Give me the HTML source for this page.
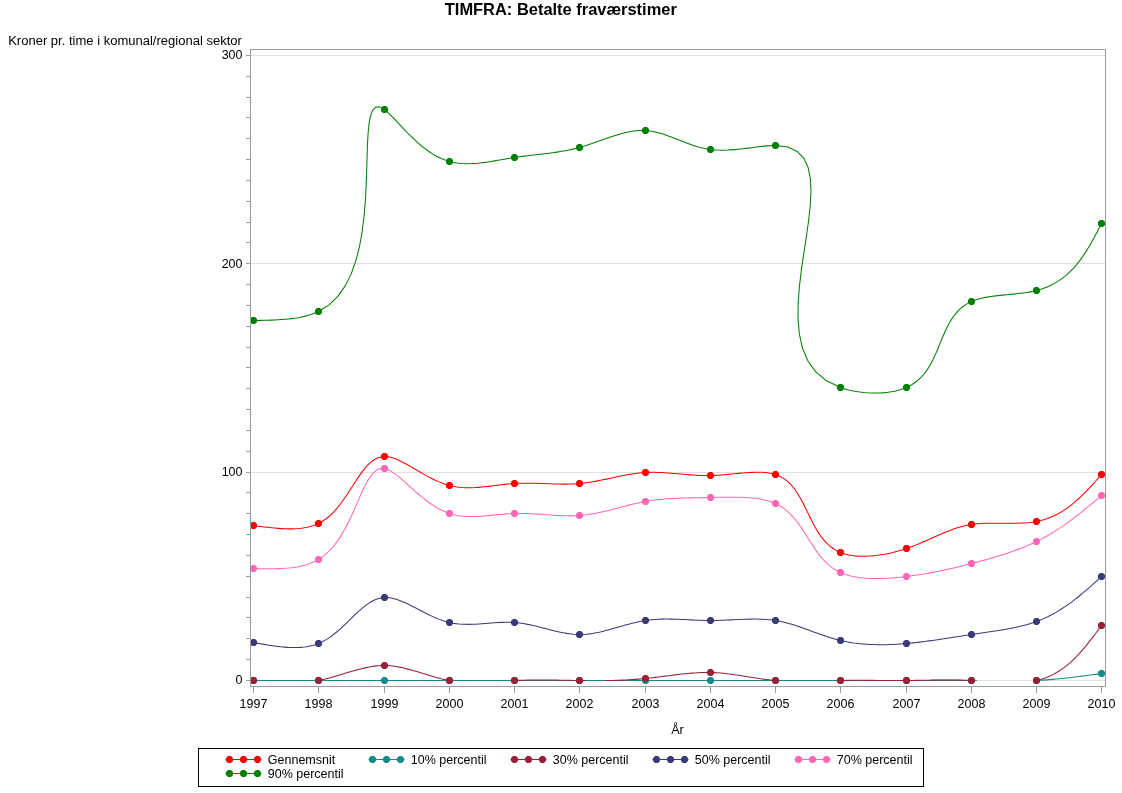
<!DOCTYPE html>
<html><head><meta charset="utf-8"><style>
html,body{margin:0;padding:0;background:#fff;}
svg{display:block;font-family:"Liberation Sans", sans-serif;will-change:transform;}
</style></head><body>
<svg width="1122" height="793" viewBox="0 0 1122 793" fill="#000">
<line x1="250.5" y1="680.50" x2="1105.5" y2="680.50" stroke="#e0e0e0" stroke-width="1"/>
<line x1="250.5" y1="472.50" x2="1105.5" y2="472.50" stroke="#e0e0e0" stroke-width="1"/>
<line x1="250.5" y1="263.50" x2="1105.5" y2="263.50" stroke="#e0e0e0" stroke-width="1"/>
<line x1="250.5" y1="55.50" x2="1105.5" y2="55.50" stroke="#e0e0e0" stroke-width="1"/>
<path d="M253.50,525.50 L257.08,525.98 L260.65,526.46 L264.21,526.91 L267.76,527.34 L271.28,527.73 L274.79,528.09 L278.26,528.38 L281.70,528.62 L285.10,528.79 L288.45,528.88 L291.76,528.88 L295.01,528.78 L298.21,528.58 L301.33,528.27 L304.40,527.83 L307.38,527.26 L310.29,526.55 L313.12,525.70 L315.86,524.68 L318.50,523.50 L322.96,520.99 L327.14,517.99 L331.06,514.57 L334.75,510.80 L338.24,506.74 L341.55,502.46 L344.72,498.03 L347.76,493.51 L350.71,488.96 L353.59,484.46 L356.42,480.08 L359.25,475.87 L362.08,471.90 L364.95,468.24 L367.89,464.96 L370.92,462.12 L374.07,459.79 L377.37,458.03 L380.83,456.91 L384.50,456.50 L387.06,456.64 L389.72,457.10 L392.47,457.84 L395.30,458.83 L398.23,460.05 L401.23,461.47 L404.31,463.05 L407.46,464.77 L410.68,466.60 L413.96,468.51 L417.31,470.47 L420.71,472.45 L424.16,474.41 L427.67,476.35 L431.22,478.21 L434.81,479.98 L438.43,481.62 L442.09,483.11 L445.78,484.41 L449.50,485.50 L452.66,486.24 L455.84,486.82 L459.03,487.24 L462.23,487.53 L465.45,487.70 L468.67,487.75 L471.91,487.70 L475.15,487.57 L478.41,487.36 L481.67,487.08 L484.94,486.75 L488.21,486.39 L491.49,485.99 L494.77,485.58 L498.06,485.17 L501.35,484.77 L504.63,484.39 L507.92,484.04 L511.21,483.74 L514.50,483.50 L517.78,483.33 L521.06,483.22 L524.34,483.16 L527.61,483.15 L530.89,483.19 L534.15,483.25 L537.42,483.35 L540.68,483.46 L543.94,483.58 L547.20,483.70 L550.45,483.82 L553.69,483.93 L556.94,484.02 L560.17,484.09 L563.41,484.12 L566.64,484.11 L569.86,484.05 L573.08,483.93 L576.29,483.75 L579.50,483.50 L582.84,483.16 L586.18,482.74 L589.51,482.25 L592.83,481.70 L596.15,481.11 L599.46,480.47 L602.77,479.81 L606.08,479.12 L609.38,478.42 L612.68,477.72 L615.97,477.02 L619.26,476.34 L622.55,475.68 L625.83,475.05 L629.12,474.47 L632.40,473.94 L635.68,473.46 L638.95,473.06 L642.23,472.74 L645.50,472.50 L648.64,472.36 L651.79,472.30 L654.94,472.32 L658.09,472.40 L661.24,472.53 L664.41,472.72 L667.58,472.94 L670.77,473.19 L673.97,473.46 L677.18,473.75 L680.41,474.04 L683.66,474.33 L686.93,474.60 L690.22,474.86 L693.53,475.09 L696.87,475.28 L700.23,475.42 L703.62,475.51 L707.05,475.54 L710.50,475.50 L713.98,475.38 L717.49,475.20 L721.01,474.96 L724.54,474.68 L728.07,474.36 L731.59,474.03 L735.10,473.70 L738.59,473.37 L742.04,473.07 L745.45,472.79 L748.81,472.56 L752.11,472.39 L755.35,472.28 L758.52,472.25 L761.60,472.32 L764.59,472.50 L767.49,472.79 L770.28,473.21 L772.95,473.78 L775.50,474.50 L780.15,476.40 L784.34,478.88 L788.13,481.89 L791.56,485.36 L794.69,489.22 L797.56,493.43 L800.24,497.91 L802.77,502.60 L805.21,507.43 L807.60,512.36 L810.00,517.30 L812.45,522.21 L815.02,527.01 L817.76,531.65 L820.71,536.06 L823.93,540.18 L827.46,543.95 L831.37,547.30 L835.70,550.17 L840.50,552.50 L843.18,553.47 L846.00,554.29 L848.93,554.96 L851.97,555.48 L855.11,555.86 L858.34,556.11 L861.64,556.23 L865.01,556.23 L868.43,556.10 L871.89,555.87 L875.38,555.52 L878.90,555.08 L882.43,554.54 L885.95,553.91 L889.47,553.19 L892.96,552.39 L896.42,551.51 L899.84,550.57 L903.20,549.57 L906.50,548.50 L910.06,547.26 L913.54,545.96 L916.95,544.62 L920.28,543.25 L923.56,541.84 L926.79,540.43 L929.97,539.00 L933.12,537.58 L936.25,536.18 L939.36,534.80 L942.47,533.45 L945.57,532.15 L948.69,530.90 L951.82,529.72 L954.98,528.60 L958.18,527.58 L961.42,526.64 L964.72,525.81 L968.07,525.09 L971.50,524.50 L974.61,524.08 L977.77,523.76 L980.98,523.51 L984.24,523.34 L987.53,523.23 L990.84,523.18 L994.18,523.16 L997.54,523.17 L1000.90,523.19 L1004.27,523.23 L1007.63,523.25 L1010.97,523.27 L1014.30,523.25 L1017.60,523.20 L1020.87,523.10 L1024.10,522.95 L1027.29,522.72 L1030.42,522.41 L1033.49,522.01 L1036.50,521.50 L1040.67,520.59 L1044.70,519.45 L1048.59,518.11 L1052.36,516.56 L1056.00,514.84 L1059.54,512.93 L1062.97,510.87 L1066.31,508.65 L1069.55,506.30 L1072.72,503.81 L1075.81,501.21 L1078.83,498.51 L1081.80,495.71 L1084.71,492.83 L1087.57,489.88 L1090.40,486.88 L1093.20,483.82 L1095.98,480.73 L1098.74,477.62 L1101.50,474.50" fill="none" stroke="#ff0000" stroke-width="1.05" stroke-linejoin="round"/>
<polygon points="252.00,522.00 255.00,522.00 257.00,524.00 257.00,527.00 255.00,529.00 252.00,529.00 250.00,527.00 250.00,524.00" fill="#ff0000"/>
<polygon points="317.00,520.00 320.00,520.00 322.00,522.00 322.00,525.00 320.00,527.00 317.00,527.00 315.00,525.00 315.00,522.00" fill="#ff0000"/>
<polygon points="383.00,453.00 386.00,453.00 388.00,455.00 388.00,458.00 386.00,460.00 383.00,460.00 381.00,458.00 381.00,455.00" fill="#ff0000"/>
<polygon points="448.00,482.00 451.00,482.00 453.00,484.00 453.00,487.00 451.00,489.00 448.00,489.00 446.00,487.00 446.00,484.00" fill="#ff0000"/>
<polygon points="513.00,480.00 516.00,480.00 518.00,482.00 518.00,485.00 516.00,487.00 513.00,487.00 511.00,485.00 511.00,482.00" fill="#ff0000"/>
<polygon points="578.00,480.00 581.00,480.00 583.00,482.00 583.00,485.00 581.00,487.00 578.00,487.00 576.00,485.00 576.00,482.00" fill="#ff0000"/>
<polygon points="644.00,469.00 647.00,469.00 649.00,471.00 649.00,474.00 647.00,476.00 644.00,476.00 642.00,474.00 642.00,471.00" fill="#ff0000"/>
<polygon points="709.00,472.00 712.00,472.00 714.00,474.00 714.00,477.00 712.00,479.00 709.00,479.00 707.00,477.00 707.00,474.00" fill="#ff0000"/>
<polygon points="774.00,471.00 777.00,471.00 779.00,473.00 779.00,476.00 777.00,478.00 774.00,478.00 772.00,476.00 772.00,473.00" fill="#ff0000"/>
<polygon points="839.00,549.00 842.00,549.00 844.00,551.00 844.00,554.00 842.00,556.00 839.00,556.00 837.00,554.00 837.00,551.00" fill="#ff0000"/>
<polygon points="905.00,545.00 908.00,545.00 910.00,547.00 910.00,550.00 908.00,552.00 905.00,552.00 903.00,550.00 903.00,547.00" fill="#ff0000"/>
<polygon points="970.00,521.00 973.00,521.00 975.00,523.00 975.00,526.00 973.00,528.00 970.00,528.00 968.00,526.00 968.00,523.00" fill="#ff0000"/>
<polygon points="1035.00,518.00 1038.00,518.00 1040.00,520.00 1040.00,523.00 1038.00,525.00 1035.00,525.00 1033.00,523.00 1033.00,520.00" fill="#ff0000"/>
<polygon points="1100.00,471.00 1103.00,471.00 1105.00,473.00 1105.00,476.00 1103.00,478.00 1100.00,478.00 1098.00,476.00 1098.00,473.00" fill="#ff0000"/>
<path d="M253.50,680.50 L256.75,680.50 L260.00,680.50 L263.25,680.50 L266.50,680.50 L269.75,680.50 L273.00,680.50 L276.25,680.50 L279.50,680.50 L282.75,680.50 L286.00,680.50 L289.25,680.50 L292.50,680.50 L295.75,680.50 L299.00,680.50 L302.25,680.50 L305.50,680.50 L308.75,680.50 L312.00,680.50 L315.25,680.50 L318.50,680.50 L321.80,680.50 L325.10,680.50 L328.40,680.50 L331.70,680.50 L335.00,680.50 L338.30,680.50 L341.60,680.50 L344.90,680.50 L348.20,680.50 L351.50,680.50 L354.80,680.50 L358.10,680.50 L361.40,680.50 L364.70,680.50 L368.00,680.50 L371.30,680.50 L374.60,680.50 L377.90,680.50 L381.20,680.50 L384.50,680.50 L387.75,680.50 L391.00,680.50 L394.25,680.50 L397.50,680.50 L400.75,680.50 L404.00,680.50 L407.25,680.50 L410.50,680.50 L413.75,680.50 L417.00,680.50 L420.25,680.50 L423.50,680.50 L426.75,680.50 L430.00,680.50 L433.25,680.50 L436.50,680.50 L439.75,680.50 L443.00,680.50 L446.25,680.50 L449.50,680.50 L452.75,680.50 L456.00,680.50 L459.25,680.50 L462.50,680.50 L465.75,680.50 L469.00,680.50 L472.25,680.50 L475.50,680.50 L478.75,680.50 L482.00,680.50 L485.25,680.50 L488.50,680.50 L491.75,680.50 L495.00,680.50 L498.25,680.50 L501.50,680.50 L504.75,680.50 L508.00,680.50 L511.25,680.50 L514.50,680.50 L517.75,680.50 L521.00,680.50 L524.25,680.50 L527.50,680.50 L530.75,680.50 L534.00,680.50 L537.25,680.50 L540.50,680.50 L543.75,680.50 L547.00,680.50 L550.25,680.50 L553.50,680.50 L556.75,680.50 L560.00,680.50 L563.25,680.50 L566.50,680.50 L569.75,680.50 L573.00,680.50 L576.25,680.50 L579.50,680.50 L582.80,680.50 L586.10,680.50 L589.40,680.50 L592.70,680.50 L596.00,680.50 L599.30,680.50 L602.60,680.50 L605.90,680.50 L609.20,680.50 L612.50,680.50 L615.80,680.50 L619.10,680.50 L622.40,680.50 L625.70,680.50 L629.00,680.50 L632.30,680.50 L635.60,680.50 L638.90,680.50 L642.20,680.50 L645.50,680.50 L648.75,680.50 L652.00,680.50 L655.25,680.50 L658.50,680.50 L661.75,680.50 L665.00,680.50 L668.25,680.50 L671.50,680.50 L674.75,680.50 L678.00,680.50 L681.25,680.50 L684.50,680.50 L687.75,680.50 L691.00,680.50 L694.25,680.50 L697.50,680.50 L700.75,680.50 L704.00,680.50 L707.25,680.50 L710.50,680.50 L713.75,680.50 L717.00,680.50 L720.25,680.50 L723.50,680.50 L726.75,680.50 L730.00,680.50 L733.25,680.50 L736.50,680.50 L739.75,680.50 L743.00,680.50 L746.25,680.50 L749.50,680.50 L752.75,680.50 L756.00,680.50 L759.25,680.50 L762.50,680.50 L765.75,680.50 L769.00,680.50 L772.25,680.50 L775.50,680.50 L778.75,680.50 L782.00,680.50 L785.25,680.50 L788.50,680.50 L791.75,680.49 L795.00,680.49 L798.25,680.49 L801.50,680.49 L804.75,680.49 L808.00,680.49 L811.25,680.49 L814.50,680.49 L817.75,680.49 L821.00,680.49 L824.25,680.49 L827.50,680.49 L830.75,680.49 L834.00,680.49 L837.25,680.50 L840.50,680.50 L843.80,680.50 L847.10,680.51 L850.40,680.51 L853.70,680.52 L857.00,680.52 L860.30,680.52 L863.60,680.53 L866.90,680.53 L870.20,680.53 L873.50,680.54 L876.80,680.54 L880.10,680.54 L883.40,680.54 L886.70,680.54 L890.00,680.54 L893.30,680.53 L896.60,680.53 L899.90,680.52 L903.20,680.51 L906.50,680.50 L909.75,680.49 L913.00,680.47 L916.25,680.46 L919.49,680.44 L922.74,680.43 L925.99,680.41 L929.24,680.40 L932.49,680.38 L935.74,680.37 L938.99,680.36 L942.23,680.36 L945.48,680.35 L948.73,680.36 L951.98,680.36 L955.24,680.37 L958.49,680.38 L961.74,680.40 L964.99,680.43 L968.25,680.46 L971.50,680.50 L974.75,680.55 L976.88,680.58 M1034.73,680.58 L1036.50,680.50 L1039.77,680.32 L1043.03,680.12 L1046.30,679.89 L1049.56,679.64 L1052.82,679.37 L1056.07,679.07 L1059.33,678.76 L1062.58,678.42 L1065.83,678.07 L1069.08,677.71 L1072.32,677.33 L1075.57,676.93 L1078.81,676.53 L1082.06,676.11 L1085.30,675.69 L1088.54,675.26 L1091.78,674.83 L1095.02,674.39 L1098.26,673.94 L1101.50,673.50" fill="none" stroke="#148a8a" stroke-width="1.05" stroke-linejoin="round"/>
<polygon points="252.00,677.00 255.00,677.00 257.00,679.00 257.00,682.00 255.00,684.00 252.00,684.00 250.00,682.00 250.00,679.00" fill="#148a8a"/>
<polygon points="317.00,677.00 320.00,677.00 322.00,679.00 322.00,682.00 320.00,684.00 317.00,684.00 315.00,682.00 315.00,679.00" fill="#148a8a"/>
<polygon points="383.00,677.00 386.00,677.00 388.00,679.00 388.00,682.00 386.00,684.00 383.00,684.00 381.00,682.00 381.00,679.00" fill="#148a8a"/>
<polygon points="448.00,677.00 451.00,677.00 453.00,679.00 453.00,682.00 451.00,684.00 448.00,684.00 446.00,682.00 446.00,679.00" fill="#148a8a"/>
<polygon points="513.00,677.00 516.00,677.00 518.00,679.00 518.00,682.00 516.00,684.00 513.00,684.00 511.00,682.00 511.00,679.00" fill="#148a8a"/>
<polygon points="578.00,677.00 581.00,677.00 583.00,679.00 583.00,682.00 581.00,684.00 578.00,684.00 576.00,682.00 576.00,679.00" fill="#148a8a"/>
<polygon points="644.00,677.00 647.00,677.00 649.00,679.00 649.00,682.00 647.00,684.00 644.00,684.00 642.00,682.00 642.00,679.00" fill="#148a8a"/>
<polygon points="709.00,677.00 712.00,677.00 714.00,679.00 714.00,682.00 712.00,684.00 709.00,684.00 707.00,682.00 707.00,679.00" fill="#148a8a"/>
<polygon points="774.00,677.00 777.00,677.00 779.00,679.00 779.00,682.00 777.00,684.00 774.00,684.00 772.00,682.00 772.00,679.00" fill="#148a8a"/>
<polygon points="839.00,677.00 842.00,677.00 844.00,679.00 844.00,682.00 842.00,684.00 839.00,684.00 837.00,682.00 837.00,679.00" fill="#148a8a"/>
<polygon points="905.00,677.00 908.00,677.00 910.00,679.00 910.00,682.00 908.00,684.00 905.00,684.00 903.00,682.00 903.00,679.00" fill="#148a8a"/>
<polygon points="970.00,677.00 973.00,677.00 975.00,679.00 975.00,682.00 973.00,684.00 970.00,684.00 968.00,682.00 968.00,679.00" fill="#148a8a"/>
<polygon points="1035.00,677.00 1038.00,677.00 1040.00,679.00 1040.00,682.00 1038.00,684.00 1035.00,684.00 1033.00,682.00 1033.00,679.00" fill="#148a8a"/>
<polygon points="1100.00,670.00 1103.00,670.00 1105.00,672.00 1105.00,675.00 1103.00,677.00 1100.00,677.00 1098.00,675.00 1098.00,672.00" fill="#148a8a"/>
<path d="M253.50,680.50 L254.39,680.58 M318.04,680.58 L318.50,680.50 L321.88,679.82 L325.25,679.05 L328.61,678.21 L331.95,677.31 L335.29,676.36 L338.62,675.37 L341.93,674.37 L345.24,673.36 L348.54,672.35 L351.84,671.36 L355.12,670.41 L358.40,669.50 L361.68,668.65 L364.95,667.87 L368.22,667.19 L371.48,666.60 L374.74,666.12 L377.99,665.77 L381.25,665.56 L384.50,665.50 L387.71,665.60 L390.92,665.85 L394.12,666.24 L397.33,666.75 L400.55,667.36 L403.76,668.07 L406.98,668.87 L410.20,669.73 L413.43,670.64 L416.67,671.60 L419.91,672.59 L423.16,673.59 L426.41,674.59 L429.68,675.58 L432.95,676.54 L436.24,677.46 L439.54,678.33 L442.84,679.14 L446.17,679.87 L449.50,680.50 L450.00,680.58 M512.88,680.58 L514.50,680.50 L517.77,680.36 L521.03,680.25 L524.29,680.16 L527.55,680.09 L530.81,680.03 L534.06,680.00 L537.32,679.98 L540.57,679.98 L543.81,679.99 L547.06,680.01 L550.31,680.04 L553.55,680.08 L556.80,680.12 L560.04,680.17 L563.28,680.23 L566.52,680.29 L569.77,680.34 L573.01,680.40 L576.26,680.45 L579.50,680.50 L582.80,680.54 L586.05,680.58 M605.36,680.58 L605.91,680.57 L609.21,680.52 L612.51,680.45 L615.81,680.37 L619.12,680.26 L622.42,680.13 L625.72,679.98 L629.02,679.80 L632.32,679.60 L635.61,679.37 L638.91,679.11 L642.21,678.82 L645.50,678.50 L648.77,678.15 L652.03,677.78 L655.30,677.38 L658.56,676.97 L661.82,676.55 L665.08,676.12 L668.33,675.70 L671.59,675.27 L674.84,674.86 L678.09,674.47 L681.34,674.09 L684.59,673.74 L687.84,673.42 L691.08,673.14 L694.32,672.90 L697.56,672.70 L700.80,672.56 L704.04,672.48 L707.27,672.45 L710.50,672.50 L713.75,672.62 L717.00,672.80 L720.24,673.05 L723.49,673.35 L726.73,673.71 L729.98,674.10 L733.22,674.53 L736.46,674.99 L739.71,675.47 L742.95,675.97 L746.20,676.48 L749.44,676.99 L752.69,677.51 L755.94,678.01 L759.19,678.50 L762.45,678.97 L765.71,679.41 L768.97,679.81 L772.23,680.18 L775.50,680.50 L776.47,680.58 M837.02,680.58 L837.24,680.57 L840.50,680.50 L843.82,680.44 L847.13,680.39 L850.45,680.36 L853.76,680.34 L857.07,680.33 L860.39,680.33 L863.70,680.34 L867.01,680.35 L870.31,680.37 L873.62,680.39 L876.92,680.42 L880.22,680.44 L883.52,680.46 L886.81,680.49 L890.11,680.51 L893.39,680.52 L896.68,680.53 L899.96,680.53 L903.23,680.52 L906.50,680.50 L909.72,680.47 L912.93,680.43 L916.14,680.38 L919.35,680.33 L922.55,680.28 L925.76,680.22 L928.98,680.17 L932.19,680.12 L935.41,680.07 L938.64,680.03 L941.87,680.00 L945.12,679.98 L948.37,679.98 L951.63,679.99 L954.90,680.02 L958.19,680.07 L961.49,680.14 L964.81,680.23 L968.15,680.35 L971.50,680.50 L973.02,680.58 M1036.10,680.58 L1036.50,680.50 L1040.83,679.39 L1045.00,678.03 L1049.01,676.43 L1052.87,674.60 L1056.59,672.56 L1060.18,670.32 L1063.64,667.90 L1066.99,665.30 L1070.24,662.55 L1073.39,659.64 L1076.45,656.61 L1079.43,653.45 L1082.34,650.19 L1085.19,646.84 L1087.99,643.40 L1090.75,639.90 L1093.47,636.35 L1096.16,632.75 L1098.83,629.13 L1101.50,625.50" fill="none" stroke="#9a2038" stroke-width="1.05" stroke-linejoin="round"/>
<polygon points="252.00,677.00 255.00,677.00 257.00,679.00 257.00,682.00 255.00,684.00 252.00,684.00 250.00,682.00 250.00,679.00" fill="#9a2038"/>
<polygon points="317.00,677.00 320.00,677.00 322.00,679.00 322.00,682.00 320.00,684.00 317.00,684.00 315.00,682.00 315.00,679.00" fill="#9a2038"/>
<polygon points="383.00,662.00 386.00,662.00 388.00,664.00 388.00,667.00 386.00,669.00 383.00,669.00 381.00,667.00 381.00,664.00" fill="#9a2038"/>
<polygon points="448.00,677.00 451.00,677.00 453.00,679.00 453.00,682.00 451.00,684.00 448.00,684.00 446.00,682.00 446.00,679.00" fill="#9a2038"/>
<polygon points="513.00,677.00 516.00,677.00 518.00,679.00 518.00,682.00 516.00,684.00 513.00,684.00 511.00,682.00 511.00,679.00" fill="#9a2038"/>
<polygon points="578.00,677.00 581.00,677.00 583.00,679.00 583.00,682.00 581.00,684.00 578.00,684.00 576.00,682.00 576.00,679.00" fill="#9a2038"/>
<polygon points="644.00,675.00 647.00,675.00 649.00,677.00 649.00,680.00 647.00,682.00 644.00,682.00 642.00,680.00 642.00,677.00" fill="#9a2038"/>
<polygon points="709.00,669.00 712.00,669.00 714.00,671.00 714.00,674.00 712.00,676.00 709.00,676.00 707.00,674.00 707.00,671.00" fill="#9a2038"/>
<polygon points="774.00,677.00 777.00,677.00 779.00,679.00 779.00,682.00 777.00,684.00 774.00,684.00 772.00,682.00 772.00,679.00" fill="#9a2038"/>
<polygon points="839.00,677.00 842.00,677.00 844.00,679.00 844.00,682.00 842.00,684.00 839.00,684.00 837.00,682.00 837.00,679.00" fill="#9a2038"/>
<polygon points="905.00,677.00 908.00,677.00 910.00,679.00 910.00,682.00 908.00,684.00 905.00,684.00 903.00,682.00 903.00,679.00" fill="#9a2038"/>
<polygon points="970.00,677.00 973.00,677.00 975.00,679.00 975.00,682.00 973.00,684.00 970.00,684.00 968.00,682.00 968.00,679.00" fill="#9a2038"/>
<polygon points="1035.00,677.00 1038.00,677.00 1040.00,679.00 1040.00,682.00 1038.00,684.00 1035.00,684.00 1033.00,682.00 1033.00,679.00" fill="#9a2038"/>
<polygon points="1100.00,622.00 1103.00,622.00 1105.00,624.00 1105.00,627.00 1103.00,629.00 1100.00,629.00 1098.00,627.00 1098.00,624.00" fill="#9a2038"/>
<path d="M253.50,642.50 L256.99,643.13 L260.47,643.75 L263.95,644.36 L267.42,644.94 L270.87,645.48 L274.31,645.98 L277.72,646.43 L281.11,646.82 L284.47,647.13 L287.80,647.37 L291.09,647.52 L294.34,647.58 L297.55,647.53 L300.71,647.36 L303.82,647.08 L306.88,646.66 L309.88,646.10 L312.82,645.39 L315.69,644.53 L318.50,643.50 L322.38,641.74 L326.13,639.66 L329.75,637.32 L333.26,634.75 L336.68,631.99 L340.01,629.09 L343.27,626.09 L346.47,623.04 L349.62,619.97 L352.73,616.93 L355.82,613.96 L358.89,611.11 L361.97,608.41 L365.05,605.91 L368.16,603.65 L371.31,601.68 L374.50,600.04 L377.76,598.77 L381.09,597.91 L384.50,597.50 L387.29,597.52 L390.14,597.84 L393.05,598.42 L396.02,599.23 L399.04,600.26 L402.11,601.47 L405.23,602.83 L408.40,604.32 L411.62,605.92 L414.88,607.59 L418.18,609.31 L421.53,611.05 L424.91,612.78 L428.33,614.48 L431.78,616.12 L435.27,617.68 L438.78,619.12 L442.33,620.42 L445.90,621.56 L449.50,622.50 L452.68,623.15 L455.87,623.64 L459.08,624.00 L462.31,624.22 L465.54,624.34 L468.79,624.35 L472.04,624.29 L475.31,624.15 L478.58,623.96 L481.85,623.73 L485.12,623.48 L488.40,623.22 L491.68,622.96 L494.96,622.72 L498.23,622.51 L501.50,622.36 L504.76,622.26 L508.02,622.24 L511.26,622.32 L514.50,622.50 L517.83,622.81 L521.15,623.23 L524.46,623.76 L527.76,624.37 L531.05,625.06 L534.33,625.80 L537.60,626.59 L540.86,627.41 L544.11,628.25 L547.36,629.09 L550.60,629.92 L553.83,630.72 L557.05,631.48 L560.27,632.19 L563.49,632.83 L566.70,633.38 L569.90,633.84 L573.10,634.19 L576.30,634.41 L579.50,634.50 L582.78,634.43 L586.05,634.22 L589.33,633.87 L592.60,633.40 L595.88,632.83 L599.16,632.16 L602.43,631.41 L605.72,630.59 L609.00,629.72 L612.29,628.81 L615.58,627.87 L618.88,626.93 L622.18,625.98 L625.49,625.05 L628.80,624.14 L632.12,623.28 L635.45,622.47 L638.79,621.72 L642.14,621.06 L645.50,620.50 L648.68,620.06 L651.86,619.72 L655.06,619.45 L658.26,619.26 L661.47,619.14 L664.69,619.08 L667.92,619.07 L671.16,619.11 L674.40,619.18 L677.65,619.29 L680.91,619.42 L684.17,619.57 L687.44,619.73 L690.72,619.89 L694.00,620.05 L697.29,620.19 L700.58,620.31 L703.88,620.41 L707.19,620.48 L710.50,620.50 L713.81,620.48 L717.13,620.41 L720.45,620.32 L723.77,620.19 L727.09,620.05 L730.40,619.89 L733.71,619.73 L737.01,619.58 L740.30,619.43 L743.59,619.30 L746.86,619.19 L750.12,619.11 L753.36,619.08 L756.59,619.08 L759.79,619.15 L762.98,619.27 L766.15,619.46 L769.29,619.72 L772.41,620.07 L775.50,620.50 L778.84,621.08 L782.15,621.77 L785.43,622.55 L788.69,623.41 L791.94,624.35 L795.16,625.35 L798.37,626.41 L801.57,627.51 L804.77,628.65 L807.96,629.81 L811.15,630.98 L814.35,632.16 L817.56,633.33 L820.78,634.48 L824.01,635.61 L827.26,636.70 L830.53,637.75 L833.82,638.73 L837.14,639.66 L840.50,640.50 L843.66,641.21 L846.85,641.85 L850.07,642.42 L853.30,642.92 L856.56,643.35 L859.84,643.72 L863.14,644.02 L866.45,644.27 L869.78,644.46 L873.11,644.60 L876.45,644.69 L879.80,644.72 L883.15,644.71 L886.50,644.65 L889.85,644.55 L893.20,644.41 L896.54,644.24 L899.87,644.02 L903.19,643.78 L906.50,643.50 L909.80,643.19 L913.09,642.86 L916.36,642.51 L919.62,642.13 L922.88,641.72 L926.13,641.31 L929.36,640.87 L932.60,640.42 L935.83,639.95 L939.06,639.47 L942.28,638.99 L945.51,638.50 L948.74,638.00 L951.97,637.49 L955.21,636.99 L958.45,636.48 L961.70,635.98 L964.95,635.48 L968.22,634.99 L971.50,634.50 L974.86,634.01 L978.22,633.53 L981.59,633.05 L984.97,632.57 L988.34,632.09 L991.71,631.59 L995.07,631.08 L998.42,630.56 L1001.76,630.01 L1005.08,629.44 L1008.38,628.84 L1011.65,628.20 L1014.89,627.53 L1018.10,626.82 L1021.28,626.07 L1024.41,625.27 L1027.51,624.41 L1030.56,623.50 L1033.55,622.53 L1036.50,621.50 L1040.38,620.00 L1044.16,618.39 L1047.86,616.67 L1051.46,614.84 L1054.98,612.92 L1058.43,610.91 L1061.81,608.81 L1065.12,606.63 L1068.36,604.37 L1071.55,602.05 L1074.69,599.67 L1077.79,597.24 L1080.84,594.75 L1083.86,592.22 L1086.85,589.66 L1089.81,587.06 L1092.75,584.44 L1095.67,581.81 L1098.59,579.16 L1101.50,576.50" fill="none" stroke="#3a3a78" stroke-width="1.05" stroke-linejoin="round"/>
<polygon points="252.00,639.00 255.00,639.00 257.00,641.00 257.00,644.00 255.00,646.00 252.00,646.00 250.00,644.00 250.00,641.00" fill="#3a3a78"/>
<polygon points="317.00,640.00 320.00,640.00 322.00,642.00 322.00,645.00 320.00,647.00 317.00,647.00 315.00,645.00 315.00,642.00" fill="#3a3a78"/>
<polygon points="383.00,594.00 386.00,594.00 388.00,596.00 388.00,599.00 386.00,601.00 383.00,601.00 381.00,599.00 381.00,596.00" fill="#3a3a78"/>
<polygon points="448.00,619.00 451.00,619.00 453.00,621.00 453.00,624.00 451.00,626.00 448.00,626.00 446.00,624.00 446.00,621.00" fill="#3a3a78"/>
<polygon points="513.00,619.00 516.00,619.00 518.00,621.00 518.00,624.00 516.00,626.00 513.00,626.00 511.00,624.00 511.00,621.00" fill="#3a3a78"/>
<polygon points="578.00,631.00 581.00,631.00 583.00,633.00 583.00,636.00 581.00,638.00 578.00,638.00 576.00,636.00 576.00,633.00" fill="#3a3a78"/>
<polygon points="644.00,617.00 647.00,617.00 649.00,619.00 649.00,622.00 647.00,624.00 644.00,624.00 642.00,622.00 642.00,619.00" fill="#3a3a78"/>
<polygon points="709.00,617.00 712.00,617.00 714.00,619.00 714.00,622.00 712.00,624.00 709.00,624.00 707.00,622.00 707.00,619.00" fill="#3a3a78"/>
<polygon points="774.00,617.00 777.00,617.00 779.00,619.00 779.00,622.00 777.00,624.00 774.00,624.00 772.00,622.00 772.00,619.00" fill="#3a3a78"/>
<polygon points="839.00,637.00 842.00,637.00 844.00,639.00 844.00,642.00 842.00,644.00 839.00,644.00 837.00,642.00 837.00,639.00" fill="#3a3a78"/>
<polygon points="905.00,640.00 908.00,640.00 910.00,642.00 910.00,645.00 908.00,647.00 905.00,647.00 903.00,645.00 903.00,642.00" fill="#3a3a78"/>
<polygon points="970.00,631.00 973.00,631.00 975.00,633.00 975.00,636.00 973.00,638.00 970.00,638.00 968.00,636.00 968.00,633.00" fill="#3a3a78"/>
<polygon points="1035.00,618.00 1038.00,618.00 1040.00,620.00 1040.00,623.00 1038.00,625.00 1035.00,625.00 1033.00,623.00 1033.00,620.00" fill="#3a3a78"/>
<polygon points="1100.00,573.00 1103.00,573.00 1105.00,575.00 1105.00,578.00 1103.00,580.00 1100.00,580.00 1098.00,578.00 1098.00,575.00" fill="#3a3a78"/>
<path d="M253.50,568.50 L257.09,568.58 L260.67,568.66 L264.25,568.72 L267.81,568.75 L271.34,568.75 L274.86,568.72 L278.34,568.63 L281.79,568.49 L285.19,568.28 L288.55,568.01 L291.86,567.65 L295.11,567.20 L298.30,566.66 L301.43,566.01 L304.48,565.26 L307.46,564.38 L310.35,563.37 L313.16,562.23 L315.88,560.94 L318.50,559.50 L323.88,555.82 L328.80,551.46 L333.32,546.54 L337.47,541.14 L341.28,535.36 L344.79,529.29 L348.05,523.04 L351.10,516.70 L353.96,510.36 L356.68,504.13 L359.29,498.09 L361.84,492.34 L364.36,486.99 L366.90,482.12 L369.48,477.83 L372.16,474.22 L374.96,471.39 L377.92,469.43 L381.09,468.43 L384.50,468.50 L386.78,469.12 L389.18,470.16 L391.68,471.57 L394.29,473.32 L397.00,475.37 L399.82,477.67 L402.74,480.18 L405.76,482.86 L408.88,485.67 L412.11,488.57 L415.43,491.52 L418.84,494.48 L422.35,497.41 L425.96,500.26 L429.66,502.99 L433.45,505.57 L437.33,507.95 L441.30,510.10 L445.36,511.96 L449.50,513.50 L452.51,514.39 L455.56,515.10 L458.65,515.66 L461.78,516.07 L464.94,516.35 L468.13,516.51 L471.35,516.57 L474.59,516.53 L477.85,516.41 L481.14,516.22 L484.44,515.98 L487.76,515.69 L491.08,515.38 L494.42,515.05 L497.77,514.72 L501.11,514.41 L504.47,514.11 L507.81,513.85 L511.16,513.65 L514.50,513.50 L517.83,513.43 L521.16,513.42 L524.48,513.48 L527.78,513.58 L531.08,513.73 L534.37,513.91 L537.65,514.12 L540.92,514.35 L544.19,514.59 L547.44,514.83 L550.69,515.06 L553.92,515.28 L557.15,515.47 L560.37,515.64 L563.58,515.76 L566.78,515.84 L569.98,515.86 L573.16,515.81 L576.33,515.70 L579.50,515.50 L582.84,515.20 L586.18,514.80 L589.50,514.32 L592.82,513.77 L596.14,513.15 L599.44,512.47 L602.74,511.75 L606.04,510.98 L609.33,510.17 L612.62,509.35 L615.90,508.50 L619.19,507.65 L622.47,506.79 L625.76,505.95 L629.04,505.12 L632.33,504.31 L635.62,503.54 L638.91,502.81 L642.20,502.12 L645.50,501.50 L648.63,500.97 L651.76,500.49 L654.90,500.07 L658.05,499.69 L661.21,499.36 L664.38,499.07 L667.56,498.82 L670.76,498.61 L673.96,498.43 L677.19,498.27 L680.42,498.14 L683.68,498.03 L686.96,497.94 L690.25,497.86 L693.57,497.79 L696.90,497.73 L700.26,497.68 L703.65,497.62 L707.06,497.56 L710.50,497.50 L713.98,497.43 L717.48,497.35 L721.00,497.28 L724.52,497.22 L728.04,497.17 L731.55,497.16 L735.04,497.17 L738.51,497.22 L741.94,497.32 L745.34,497.48 L748.69,497.69 L751.99,497.97 L755.22,498.33 L758.39,498.77 L761.48,499.29 L764.48,499.91 L767.39,500.64 L770.20,501.47 L772.91,502.42 L775.50,503.50 L779.84,505.74 L783.83,508.36 L787.51,511.32 L790.92,514.57 L794.09,518.07 L797.07,521.78 L799.89,525.67 L802.61,529.67 L805.24,533.77 L807.84,537.91 L810.44,542.05 L813.09,546.15 L815.81,550.17 L818.66,554.06 L821.67,557.79 L824.88,561.31 L828.33,564.59 L832.05,567.57 L836.10,570.22 L840.50,572.50 L843.16,573.61 L845.93,574.59 L848.81,575.45 L851.80,576.19 L854.88,576.82 L858.04,577.34 L861.28,577.76 L864.59,578.09 L867.95,578.33 L871.37,578.48 L874.83,578.55 L878.32,578.55 L881.84,578.48 L885.38,578.35 L888.93,578.16 L892.47,577.91 L896.01,577.62 L899.54,577.28 L903.03,576.91 L906.50,576.50 L909.99,576.06 L913.45,575.59 L916.86,575.09 L920.24,574.57 L923.59,574.03 L926.90,573.46 L930.19,572.87 L933.45,572.26 L936.69,571.62 L939.91,570.97 L943.11,570.30 L946.30,569.61 L949.47,568.90 L952.63,568.17 L955.78,567.43 L958.93,566.67 L962.07,565.90 L965.21,565.11 L968.35,564.31 L971.50,563.50 L974.86,562.62 L978.23,561.73 L981.60,560.82 L984.97,559.90 L988.34,558.96 L991.70,557.99 L995.05,557.01 L998.39,556.00 L1001.71,554.96 L1005.02,553.90 L1008.30,552.81 L1011.56,551.70 L1014.80,550.55 L1018.01,549.36 L1021.18,548.15 L1024.33,546.90 L1027.43,545.61 L1030.50,544.28 L1033.52,542.91 L1036.50,541.50 L1040.23,539.64 L1043.89,537.71 L1047.48,535.71 L1051.00,533.66 L1054.46,531.55 L1057.86,529.39 L1061.21,527.17 L1064.50,524.91 L1067.75,522.61 L1070.95,520.27 L1074.12,517.89 L1077.25,515.49 L1080.35,513.05 L1083.42,510.59 L1086.47,508.11 L1089.50,505.61 L1092.51,503.09 L1095.52,500.57 L1098.51,498.04 L1101.50,495.50" fill="none" stroke="#ff66b3" stroke-width="1.05" stroke-linejoin="round"/>
<polygon points="252.00,565.00 255.00,565.00 257.00,567.00 257.00,570.00 255.00,572.00 252.00,572.00 250.00,570.00 250.00,567.00" fill="#ff66b3"/>
<polygon points="317.00,556.00 320.00,556.00 322.00,558.00 322.00,561.00 320.00,563.00 317.00,563.00 315.00,561.00 315.00,558.00" fill="#ff66b3"/>
<polygon points="383.00,465.00 386.00,465.00 388.00,467.00 388.00,470.00 386.00,472.00 383.00,472.00 381.00,470.00 381.00,467.00" fill="#ff66b3"/>
<polygon points="448.00,510.00 451.00,510.00 453.00,512.00 453.00,515.00 451.00,517.00 448.00,517.00 446.00,515.00 446.00,512.00" fill="#ff66b3"/>
<polygon points="513.00,510.00 516.00,510.00 518.00,512.00 518.00,515.00 516.00,517.00 513.00,517.00 511.00,515.00 511.00,512.00" fill="#ff66b3"/>
<polygon points="578.00,512.00 581.00,512.00 583.00,514.00 583.00,517.00 581.00,519.00 578.00,519.00 576.00,517.00 576.00,514.00" fill="#ff66b3"/>
<polygon points="644.00,498.00 647.00,498.00 649.00,500.00 649.00,503.00 647.00,505.00 644.00,505.00 642.00,503.00 642.00,500.00" fill="#ff66b3"/>
<polygon points="709.00,494.00 712.00,494.00 714.00,496.00 714.00,499.00 712.00,501.00 709.00,501.00 707.00,499.00 707.00,496.00" fill="#ff66b3"/>
<polygon points="774.00,500.00 777.00,500.00 779.00,502.00 779.00,505.00 777.00,507.00 774.00,507.00 772.00,505.00 772.00,502.00" fill="#ff66b3"/>
<polygon points="839.00,569.00 842.00,569.00 844.00,571.00 844.00,574.00 842.00,576.00 839.00,576.00 837.00,574.00 837.00,571.00" fill="#ff66b3"/>
<polygon points="905.00,573.00 908.00,573.00 910.00,575.00 910.00,578.00 908.00,580.00 905.00,580.00 903.00,578.00 903.00,575.00" fill="#ff66b3"/>
<polygon points="970.00,560.00 973.00,560.00 975.00,562.00 975.00,565.00 973.00,567.00 970.00,567.00 968.00,565.00 968.00,562.00" fill="#ff66b3"/>
<polygon points="1035.00,538.00 1038.00,538.00 1040.00,540.00 1040.00,543.00 1038.00,545.00 1035.00,545.00 1033.00,543.00 1033.00,540.00" fill="#ff66b3"/>
<polygon points="1100.00,492.00 1103.00,492.00 1105.00,494.00 1105.00,497.00 1103.00,499.00 1100.00,499.00 1098.00,497.00 1098.00,494.00" fill="#ff66b3"/>
<path d="M253.50,320.50 L257.07,320.45 L260.64,320.39 L264.19,320.32 L267.73,320.23 L271.25,320.12 L274.75,319.98 L278.22,319.80 L281.66,319.58 L285.05,319.32 L288.41,318.99 L291.71,318.61 L294.97,318.17 L298.16,317.65 L301.29,317.05 L304.36,316.37 L307.35,315.60 L310.26,314.73 L313.10,313.77 L315.84,312.69 L318.50,311.50 L329.13,304.84 L338.03,296.12 L345.37,285.62 L351.29,273.62 L355.96,260.41 L359.54,246.26 L362.19,231.47 L364.07,216.32 L365.33,201.09 L366.14,186.06 L366.66,171.52 L367.05,157.76 L367.46,145.05 L368.06,133.68 L369.01,123.94 L370.46,116.10 L372.57,110.45 L375.51,107.28 L379.43,106.87 L384.50,109.50 L386.48,111.10 L388.60,113.04 L390.86,115.27 L393.27,117.76 L395.81,120.47 L398.50,123.36 L401.31,126.39 L404.26,129.53 L407.35,132.74 L410.56,135.97 L413.91,139.20 L417.38,142.38 L420.97,145.47 L424.69,148.44 L428.53,151.24 L432.49,153.85 L436.57,156.21 L440.77,158.30 L445.08,160.08 L449.50,161.50 L452.50,162.23 L455.55,162.81 L458.64,163.23 L461.77,163.50 L464.93,163.65 L468.13,163.68 L471.36,163.60 L474.61,163.42 L477.89,163.16 L481.19,162.82 L484.50,162.41 L487.82,161.94 L491.16,161.43 L494.50,160.89 L497.84,160.32 L501.19,159.74 L504.53,159.16 L507.86,158.58 L511.19,158.03 L514.50,157.50 L517.86,157.00 L521.20,156.54 L524.53,156.11 L527.84,155.70 L531.14,155.31 L534.42,154.93 L537.70,154.56 L540.96,154.18 L544.21,153.81 L547.45,153.41 L550.68,153.00 L553.91,152.57 L557.12,152.11 L560.33,151.60 L563.54,151.06 L566.73,150.47 L569.93,149.82 L573.12,149.12 L576.31,148.35 L579.50,147.50 L582.87,146.53 L586.23,145.48 L589.59,144.37 L592.95,143.22 L596.30,142.04 L599.65,140.85 L602.99,139.65 L606.33,138.46 L609.66,137.31 L612.98,136.19 L616.29,135.13 L619.59,134.15 L622.87,133.24 L626.15,132.44 L629.41,131.75 L632.66,131.18 L635.90,130.76 L639.11,130.50 L642.32,130.41 L645.50,130.50 L648.67,130.79 L651.83,131.26 L654.97,131.89 L658.11,132.66 L661.25,133.57 L664.39,134.58 L667.53,135.67 L670.68,136.84 L673.84,138.06 L677.01,139.31 L680.21,140.57 L683.43,141.83 L686.68,143.07 L689.96,144.26 L693.27,145.40 L696.63,146.45 L700.02,147.41 L703.46,148.25 L706.95,148.95 L710.50,149.50 L713.84,149.86 L717.22,150.09 L720.63,150.19 L724.07,150.18 L727.52,150.07 L730.98,149.88 L734.44,149.62 L737.89,149.30 L741.32,148.93 L744.73,148.53 L748.10,148.11 L751.43,147.68 L754.71,147.26 L757.93,146.85 L761.08,146.47 L764.15,146.14 L767.13,145.87 L770.03,145.66 L772.82,145.53 L775.50,145.50 L787.87,147.09 L797.20,151.46 L803.82,158.34 L808.10,167.43 L810.37,178.47 L810.98,191.18 L810.29,205.27 L808.64,220.47 L806.37,236.49 L803.84,253.07 L801.40,269.91 L799.38,286.74 L798.14,303.28 L798.03,319.25 L799.40,334.38 L802.58,348.37 L807.94,360.96 L815.81,371.87 L826.55,380.81 L840.50,387.50 L843.53,388.49 L846.67,389.39 L849.91,390.20 L853.24,390.91 L856.64,391.52 L860.10,392.03 L863.59,392.43 L867.12,392.74 L870.66,392.93 L874.20,393.02 L877.73,393.00 L881.23,392.86 L884.68,392.61 L888.08,392.25 L891.41,391.76 L894.66,391.16 L897.80,390.43 L900.83,389.58 L903.74,388.61 L906.50,387.50 L911.79,384.78 L916.46,381.55 L920.59,377.86 L924.24,373.77 L927.47,369.35 L930.36,364.65 L932.96,359.72 L935.35,354.62 L937.59,349.42 L939.75,344.17 L941.90,338.92 L944.09,333.74 L946.41,328.68 L948.91,323.80 L951.66,319.15 L954.72,314.80 L958.17,310.80 L962.08,307.22 L966.50,304.10 L971.50,301.50 L974.15,300.45 L976.94,299.52 L979.86,298.70 L982.89,297.98 L986.02,297.36 L989.24,296.81 L992.54,296.32 L995.90,295.89 L999.31,295.50 L1002.76,295.14 L1006.23,294.79 L1009.72,294.45 L1013.20,294.11 L1016.68,293.74 L1020.12,293.35 L1023.53,292.91 L1026.88,292.42 L1030.17,291.86 L1033.38,291.23 L1036.50,290.50 L1041.63,289.02 L1046.48,287.25 L1051.04,285.20 L1055.35,282.91 L1059.42,280.36 L1063.26,277.60 L1066.88,274.62 L1070.30,271.44 L1073.55,268.08 L1076.62,264.56 L1079.54,260.88 L1082.33,257.07 L1084.99,253.14 L1087.55,249.10 L1090.01,244.97 L1092.40,240.77 L1094.73,236.51 L1097.01,232.20 L1099.26,227.86 L1101.50,223.50" fill="none" stroke="#008000" stroke-width="1.05" stroke-linejoin="round"/>
<polygon points="252.00,317.00 255.00,317.00 257.00,319.00 257.00,322.00 255.00,324.00 252.00,324.00 250.00,322.00 250.00,319.00" fill="#008000"/>
<polygon points="317.00,308.00 320.00,308.00 322.00,310.00 322.00,313.00 320.00,315.00 317.00,315.00 315.00,313.00 315.00,310.00" fill="#008000"/>
<polygon points="383.00,106.00 386.00,106.00 388.00,108.00 388.00,111.00 386.00,113.00 383.00,113.00 381.00,111.00 381.00,108.00" fill="#008000"/>
<polygon points="448.00,158.00 451.00,158.00 453.00,160.00 453.00,163.00 451.00,165.00 448.00,165.00 446.00,163.00 446.00,160.00" fill="#008000"/>
<polygon points="513.00,154.00 516.00,154.00 518.00,156.00 518.00,159.00 516.00,161.00 513.00,161.00 511.00,159.00 511.00,156.00" fill="#008000"/>
<polygon points="578.00,144.00 581.00,144.00 583.00,146.00 583.00,149.00 581.00,151.00 578.00,151.00 576.00,149.00 576.00,146.00" fill="#008000"/>
<polygon points="644.00,127.00 647.00,127.00 649.00,129.00 649.00,132.00 647.00,134.00 644.00,134.00 642.00,132.00 642.00,129.00" fill="#008000"/>
<polygon points="709.00,146.00 712.00,146.00 714.00,148.00 714.00,151.00 712.00,153.00 709.00,153.00 707.00,151.00 707.00,148.00" fill="#008000"/>
<polygon points="774.00,142.00 777.00,142.00 779.00,144.00 779.00,147.00 777.00,149.00 774.00,149.00 772.00,147.00 772.00,144.00" fill="#008000"/>
<polygon points="839.00,384.00 842.00,384.00 844.00,386.00 844.00,389.00 842.00,391.00 839.00,391.00 837.00,389.00 837.00,386.00" fill="#008000"/>
<polygon points="905.00,384.00 908.00,384.00 910.00,386.00 910.00,389.00 908.00,391.00 905.00,391.00 903.00,389.00 903.00,386.00" fill="#008000"/>
<polygon points="970.00,298.00 973.00,298.00 975.00,300.00 975.00,303.00 973.00,305.00 970.00,305.00 968.00,303.00 968.00,300.00" fill="#008000"/>
<polygon points="1035.00,287.00 1038.00,287.00 1040.00,289.00 1040.00,292.00 1038.00,294.00 1035.00,294.00 1033.00,292.00 1033.00,289.00" fill="#008000"/>
<polygon points="1100.00,220.00 1103.00,220.00 1105.00,222.00 1105.00,225.00 1103.00,227.00 1100.00,227.00 1098.00,225.00 1098.00,222.00" fill="#008000"/>
<rect x="250.5" y="49.5" width="855.0" height="637.0" fill="none" stroke="#969c9f" stroke-width="1"/>
<line x1="246" y1="680.50" x2="250.5" y2="680.50" stroke="#969c9f" stroke-width="1"/>
<line x1="246" y1="659.50" x2="250.5" y2="659.50" stroke="#969c9f" stroke-width="1"/>
<line x1="246" y1="638.50" x2="250.5" y2="638.50" stroke="#969c9f" stroke-width="1"/>
<line x1="246" y1="617.50" x2="250.5" y2="617.50" stroke="#969c9f" stroke-width="1"/>
<line x1="246" y1="597.50" x2="250.5" y2="597.50" stroke="#969c9f" stroke-width="1"/>
<line x1="246" y1="576.50" x2="250.5" y2="576.50" stroke="#969c9f" stroke-width="1"/>
<line x1="246" y1="555.50" x2="250.5" y2="555.50" stroke="#969c9f" stroke-width="1"/>
<line x1="246" y1="534.50" x2="250.5" y2="534.50" stroke="#969c9f" stroke-width="1"/>
<line x1="246" y1="513.50" x2="250.5" y2="513.50" stroke="#969c9f" stroke-width="1"/>
<line x1="246" y1="492.50" x2="250.5" y2="492.50" stroke="#969c9f" stroke-width="1"/>
<line x1="246" y1="472.50" x2="250.5" y2="472.50" stroke="#969c9f" stroke-width="1"/>
<line x1="246" y1="451.50" x2="250.5" y2="451.50" stroke="#969c9f" stroke-width="1"/>
<line x1="246" y1="430.50" x2="250.5" y2="430.50" stroke="#969c9f" stroke-width="1"/>
<line x1="246" y1="409.50" x2="250.5" y2="409.50" stroke="#969c9f" stroke-width="1"/>
<line x1="246" y1="388.50" x2="250.5" y2="388.50" stroke="#969c9f" stroke-width="1"/>
<line x1="246" y1="367.50" x2="250.5" y2="367.50" stroke="#969c9f" stroke-width="1"/>
<line x1="246" y1="347.50" x2="250.5" y2="347.50" stroke="#969c9f" stroke-width="1"/>
<line x1="246" y1="326.50" x2="250.5" y2="326.50" stroke="#969c9f" stroke-width="1"/>
<line x1="246" y1="305.50" x2="250.5" y2="305.50" stroke="#969c9f" stroke-width="1"/>
<line x1="246" y1="284.50" x2="250.5" y2="284.50" stroke="#969c9f" stroke-width="1"/>
<line x1="246" y1="263.50" x2="250.5" y2="263.50" stroke="#969c9f" stroke-width="1"/>
<line x1="246" y1="242.50" x2="250.5" y2="242.50" stroke="#969c9f" stroke-width="1"/>
<line x1="246" y1="222.50" x2="250.5" y2="222.50" stroke="#969c9f" stroke-width="1"/>
<line x1="246" y1="201.50" x2="250.5" y2="201.50" stroke="#969c9f" stroke-width="1"/>
<line x1="246" y1="180.50" x2="250.5" y2="180.50" stroke="#969c9f" stroke-width="1"/>
<line x1="246" y1="159.50" x2="250.5" y2="159.50" stroke="#969c9f" stroke-width="1"/>
<line x1="246" y1="138.50" x2="250.5" y2="138.50" stroke="#969c9f" stroke-width="1"/>
<line x1="246" y1="117.50" x2="250.5" y2="117.50" stroke="#969c9f" stroke-width="1"/>
<line x1="246" y1="97.50" x2="250.5" y2="97.50" stroke="#969c9f" stroke-width="1"/>
<line x1="246" y1="76.50" x2="250.5" y2="76.50" stroke="#969c9f" stroke-width="1"/>
<line x1="246" y1="55.50" x2="250.5" y2="55.50" stroke="#969c9f" stroke-width="1"/>
<text x="242.5" y="684.20" text-anchor="end" font-size="12.5">0</text>
<text x="242.5" y="475.87" text-anchor="end" font-size="12.5">100</text>
<text x="242.5" y="267.53" text-anchor="end" font-size="12.5">200</text>
<text x="242.5" y="59.20" text-anchor="end" font-size="12.5">300</text>
<line x1="253.50" y1="687" x2="253.50" y2="693" stroke="#969c9f" stroke-width="1"/>
<text x="253.50" y="708.2" text-anchor="middle" font-size="12.5">1997</text>
<line x1="318.50" y1="687" x2="318.50" y2="693" stroke="#969c9f" stroke-width="1"/>
<text x="318.50" y="708.2" text-anchor="middle" font-size="12.5">1998</text>
<line x1="384.50" y1="687" x2="384.50" y2="693" stroke="#969c9f" stroke-width="1"/>
<text x="384.50" y="708.2" text-anchor="middle" font-size="12.5">1999</text>
<line x1="449.50" y1="687" x2="449.50" y2="693" stroke="#969c9f" stroke-width="1"/>
<text x="449.50" y="708.2" text-anchor="middle" font-size="12.5">2000</text>
<line x1="514.50" y1="687" x2="514.50" y2="693" stroke="#969c9f" stroke-width="1"/>
<text x="514.50" y="708.2" text-anchor="middle" font-size="12.5">2001</text>
<line x1="579.50" y1="687" x2="579.50" y2="693" stroke="#969c9f" stroke-width="1"/>
<text x="579.50" y="708.2" text-anchor="middle" font-size="12.5">2002</text>
<line x1="645.50" y1="687" x2="645.50" y2="693" stroke="#969c9f" stroke-width="1"/>
<text x="645.50" y="708.2" text-anchor="middle" font-size="12.5">2003</text>
<line x1="710.50" y1="687" x2="710.50" y2="693" stroke="#969c9f" stroke-width="1"/>
<text x="710.50" y="708.2" text-anchor="middle" font-size="12.5">2004</text>
<line x1="775.50" y1="687" x2="775.50" y2="693" stroke="#969c9f" stroke-width="1"/>
<text x="775.50" y="708.2" text-anchor="middle" font-size="12.5">2005</text>
<line x1="840.50" y1="687" x2="840.50" y2="693" stroke="#969c9f" stroke-width="1"/>
<text x="840.50" y="708.2" text-anchor="middle" font-size="12.5">2006</text>
<line x1="906.50" y1="687" x2="906.50" y2="693" stroke="#969c9f" stroke-width="1"/>
<text x="906.50" y="708.2" text-anchor="middle" font-size="12.5">2007</text>
<line x1="971.50" y1="687" x2="971.50" y2="693" stroke="#969c9f" stroke-width="1"/>
<text x="971.50" y="708.2" text-anchor="middle" font-size="12.5">2008</text>
<line x1="1036.50" y1="687" x2="1036.50" y2="693" stroke="#969c9f" stroke-width="1"/>
<text x="1036.50" y="708.2" text-anchor="middle" font-size="12.5">2009</text>
<line x1="1101.50" y1="687" x2="1101.50" y2="693" stroke="#969c9f" stroke-width="1"/>
<text x="1101.50" y="708.2" text-anchor="middle" font-size="12.5">2010</text>
<text x="677.5" y="733.7" text-anchor="middle" font-size="12.5">År</text>
<text x="560.8" y="14.8" text-anchor="middle" font-size="16.45" font-weight="bold">TIMFRA: Betalte fraværstimer</text>
<text x="8.2" y="44.8" font-size="13.03">Kroner pr. time i komunal/regional sektor</text>
<rect x="198.5" y="748.5" width="725" height="38" fill="none" stroke="#000" stroke-width="1"/>
<line x1="225.50" y1="759.5" x2="261.50" y2="759.5" stroke="#ff0000" stroke-width="1.05"/>
<polygon points="228.00,756.00 231.00,756.00 233.00,758.00 233.00,761.00 231.00,763.00 228.00,763.00 226.00,761.00 226.00,758.00" fill="#ff0000"/>
<polygon points="242.00,756.00 245.00,756.00 247.00,758.00 247.00,761.00 245.00,763.00 242.00,763.00 240.00,761.00 240.00,758.00" fill="#ff0000"/>
<polygon points="256.00,756.00 259.00,756.00 261.00,758.00 261.00,761.00 259.00,763.00 256.00,763.00 254.00,761.00 254.00,758.00" fill="#ff0000"/>
<text x="267.80" y="763.80" font-size="12.5">Gennemsnit</text>
<line x1="368.50" y1="759.5" x2="404.50" y2="759.5" stroke="#148a8a" stroke-width="1.05"/>
<polygon points="371.00,756.00 374.00,756.00 376.00,758.00 376.00,761.00 374.00,763.00 371.00,763.00 369.00,761.00 369.00,758.00" fill="#148a8a"/>
<polygon points="385.00,756.00 388.00,756.00 390.00,758.00 390.00,761.00 388.00,763.00 385.00,763.00 383.00,761.00 383.00,758.00" fill="#148a8a"/>
<polygon points="399.00,756.00 402.00,756.00 404.00,758.00 404.00,761.00 402.00,763.00 399.00,763.00 397.00,761.00 397.00,758.00" fill="#148a8a"/>
<text x="410.80" y="763.80" font-size="12.5">10% percentil</text>
<line x1="510.50" y1="759.5" x2="546.50" y2="759.5" stroke="#9a2038" stroke-width="1.05"/>
<polygon points="513.00,756.00 516.00,756.00 518.00,758.00 518.00,761.00 516.00,763.00 513.00,763.00 511.00,761.00 511.00,758.00" fill="#9a2038"/>
<polygon points="527.00,756.00 530.00,756.00 532.00,758.00 532.00,761.00 530.00,763.00 527.00,763.00 525.00,761.00 525.00,758.00" fill="#9a2038"/>
<polygon points="541.00,756.00 544.00,756.00 546.00,758.00 546.00,761.00 544.00,763.00 541.00,763.00 539.00,761.00 539.00,758.00" fill="#9a2038"/>
<text x="552.80" y="763.80" font-size="12.5">30% percentil</text>
<line x1="652.50" y1="759.5" x2="688.50" y2="759.5" stroke="#3a3a78" stroke-width="1.05"/>
<polygon points="655.00,756.00 658.00,756.00 660.00,758.00 660.00,761.00 658.00,763.00 655.00,763.00 653.00,761.00 653.00,758.00" fill="#3a3a78"/>
<polygon points="669.00,756.00 672.00,756.00 674.00,758.00 674.00,761.00 672.00,763.00 669.00,763.00 667.00,761.00 667.00,758.00" fill="#3a3a78"/>
<polygon points="683.00,756.00 686.00,756.00 688.00,758.00 688.00,761.00 686.00,763.00 683.00,763.00 681.00,761.00 681.00,758.00" fill="#3a3a78"/>
<text x="694.80" y="763.80" font-size="12.5">50% percentil</text>
<line x1="794.50" y1="759.5" x2="830.50" y2="759.5" stroke="#ff66b3" stroke-width="1.05"/>
<polygon points="797.00,756.00 800.00,756.00 802.00,758.00 802.00,761.00 800.00,763.00 797.00,763.00 795.00,761.00 795.00,758.00" fill="#ff66b3"/>
<polygon points="811.00,756.00 814.00,756.00 816.00,758.00 816.00,761.00 814.00,763.00 811.00,763.00 809.00,761.00 809.00,758.00" fill="#ff66b3"/>
<polygon points="825.00,756.00 828.00,756.00 830.00,758.00 830.00,761.00 828.00,763.00 825.00,763.00 823.00,761.00 823.00,758.00" fill="#ff66b3"/>
<text x="836.80" y="763.80" font-size="12.5">70% percentil</text>
<line x1="225.50" y1="773.5" x2="261.50" y2="773.5" stroke="#008000" stroke-width="1.05"/>
<polygon points="228.00,770.00 231.00,770.00 233.00,772.00 233.00,775.00 231.00,777.00 228.00,777.00 226.00,775.00 226.00,772.00" fill="#008000"/>
<polygon points="242.00,770.00 245.00,770.00 247.00,772.00 247.00,775.00 245.00,777.00 242.00,777.00 240.00,775.00 240.00,772.00" fill="#008000"/>
<polygon points="256.00,770.00 259.00,770.00 261.00,772.00 261.00,775.00 259.00,777.00 256.00,777.00 254.00,775.00 254.00,772.00" fill="#008000"/>
<text x="267.80" y="777.80" font-size="12.5">90% percentil</text>
</svg>
</body></html>
